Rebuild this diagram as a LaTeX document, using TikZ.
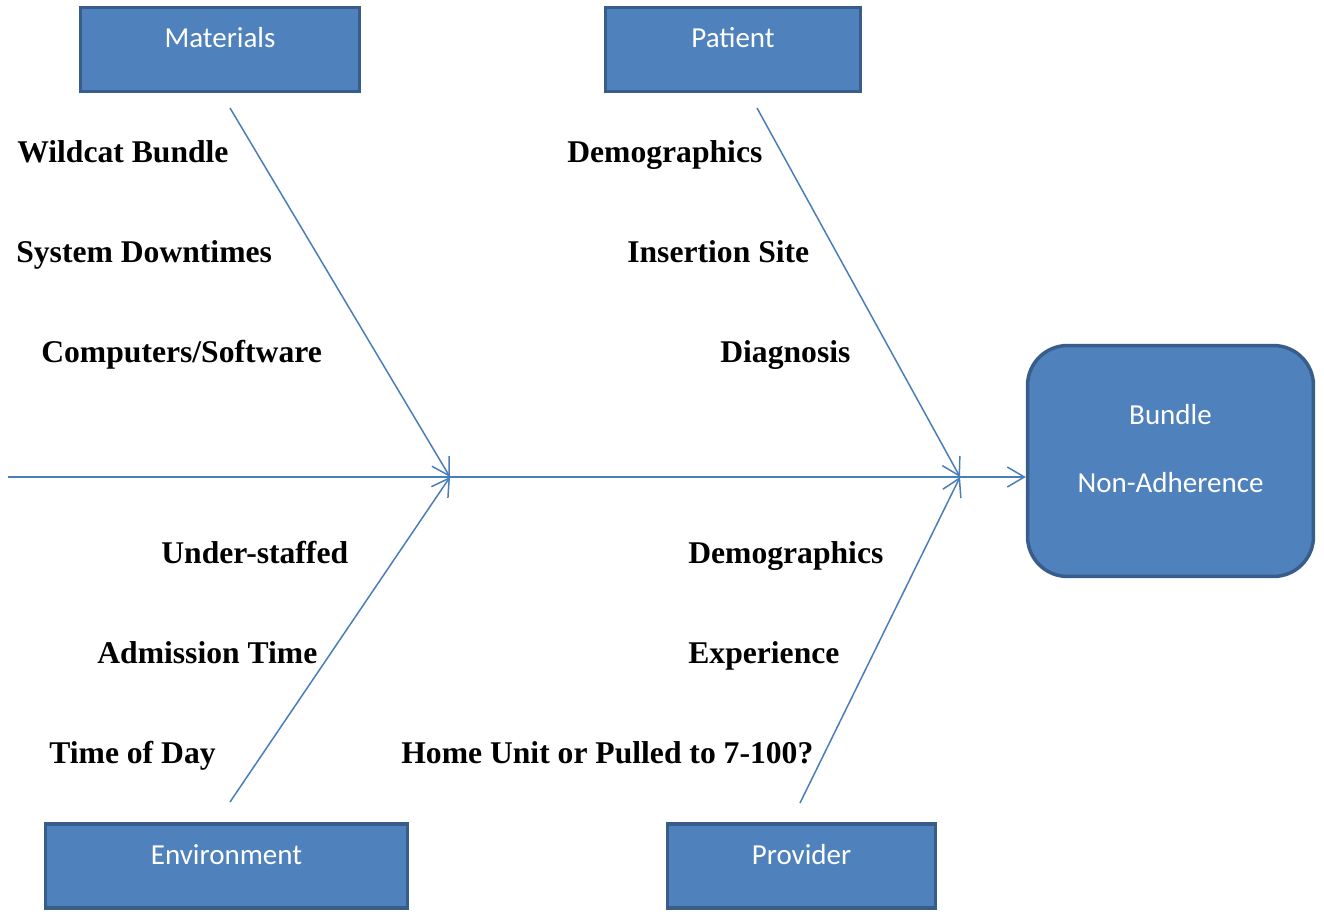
\documentclass[tikz,border=0pt]{standalone}
\usepackage{fontspec}
\setmainfont{Liberation Serif}
\newfontfamily\boxfont{Carlito}
\usetikzlibrary{arrows.meta}

\definecolor{boxblue}{HTML}{4F81BD}
\definecolor{boxedge}{HTML}{385D8A}
\definecolor{bonecol}{HTML}{4A7EBB}

\begin{document}
\begin{tikzpicture}[x=0.02cm, y=-0.02cm,
    catbox/.style={draw=boxedge, fill=boxblue, line width=0.07cm, text=white,
      font=\boxfont\fontsize{16.5}{20}\selectfont, inner sep=0pt,
      minimum height=1.68cm, text height=0.4cm, text depth=0.48cm},
    cause/.style={anchor=base west, inner sep=0pt,
      font=\bfseries\fontsize{18}{20}\selectfont},
    bone/.style={draw=bonecol, line width=0.03cm,
      -{Straight Barb[length=0.34cm,width=0.4cm]}}]

  \useasboundingbox (0,0) rectangle (1324,913);

  % categories
  \node[catbox, minimum width=5.58cm] (mat) at (220,49.5)   {Materials};
  \node[catbox, minimum width=5.1cm]  (pat) at (733,49.5)   {Patient};
  \node[catbox, minimum width=7.24cm] (env) at (226.5,866)  {Environment};
  \node[catbox, minimum width=5.36cm] (pro) at (801.5,866)  {Provider};

  % effect
  \node[catbox, rounded corners=0.8cm, minimum width=5.72cm, minimum height=4.62cm,
    align=center, text height=1.86cm, text depth=0.62cm] (eff) at (1170.5,461)
    {Bundle\\[0.64cm]Non-Adherence};

  % bone ends
  \coordinate (tail) at (8,477);
  \coordinate (j1) at (450,477);
  \coordinate (j2) at (960,477);
  \coordinate (matS) at (230,108);
  \coordinate (patS) at (757,108);
  \coordinate (envS) at (230,802);
  \coordinate (proS) at (800,803);

  \draw[bone] (tail) -- (eff.west |- tail);
  \draw[bone] (matS) -- (j1);
  \draw[bone] (envS) -- (j1);
  \draw[bone] (patS) -- (j2);
  \draw[bone] (proS) -- (j2);

  % causes
  \node[cause] (c1) at (17,162)  {Wildcat Bundle};
  \node[cause] (c2) at (16,262)  {System Downtimes};
  \node[cause] (c3) at (41,362)  {Computers/Software};

  \node[cause] (c4) at (567,162) {Demographics};
  \node[cause] (c5) at (627,262) {Insertion Site};
  \node[cause] (c6) at (720,362) {Diagnosis};

  \node[cause] (c7) at (161,563) {Under-staffed};
  \node[cause] (c8) at (97,663)  {Admission Time};
  \node[cause] (c9) at (49,763)  {Time of Day};

  \node[cause] (c10) at (688,563) {Demographics};
  \node[cause] (c11) at (688,663) {Experience};
  \node[cause] (c12) at (401,763) {Home Unit or Pulled to 7-100?};

\end{tikzpicture}
\end{document}
